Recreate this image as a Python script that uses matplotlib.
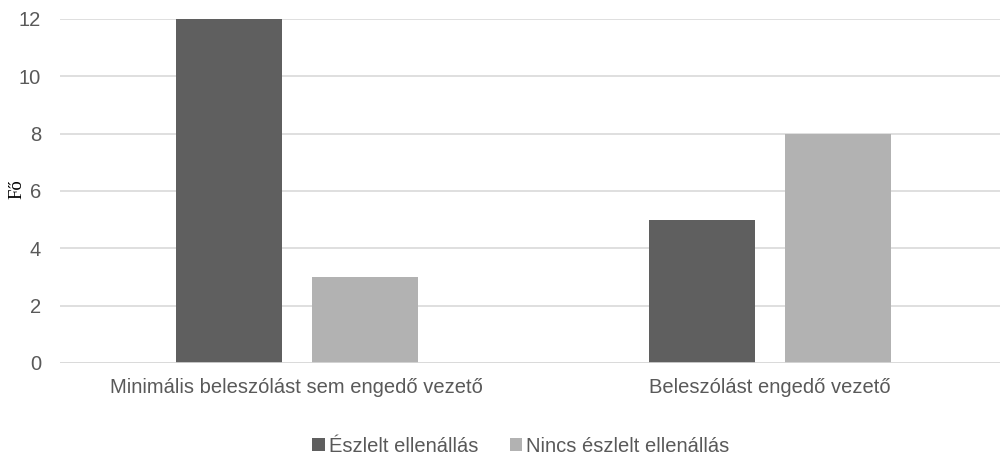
import matplotlib
matplotlib.use("Agg")
import matplotlib.pyplot as plt
import numpy as np
from matplotlib.patches import Patch

categories = ["Minimális beleszólást sem engedő vezető", "Beleszólást engedő vezető"]
series_names = ["Észlelt ellenállás", "Nincs észlelt ellenállás"]
eszlelt = [12, 5]
nincs = [3, 8]
yticks = [0, 2, 4, 6, 8, 10, 12]
ylabel = "Fő"

colors = ["#5f5f5f", "#b2b2b2"]
W, H = 1001, 454
FS = 14.5
fig = plt.figure(figsize=(W / 100, H / 100), dpi=100)
left, right = 60 / W, 1000 / W
bottom, top = 1 - 363 / H, 1 - 19 / H
ax = fig.add_axes([left, bottom, right - left, top - bottom])

x = np.arange(len(categories))
bw = 0.224
off = 0.1436
ax.bar(x - off, eszlelt, bw, color=colors[0], zorder=3)
ax.bar(x + off, nincs, bw, color=colors[1], zorder=3)

ax.set_xlim(-0.5, -0.5 + 940 / 473.5)
ax.set_ylim(0, 12)
ax.set_yticks(yticks)
ax.yaxis.grid(True, color="#d9d9d9", linewidth=1.2, zorder=0)
for s in ax.spines.values():
    s.set_visible(False)
ax.axhline(0, color="#d9d9d9", linewidth=1.2, zorder=4)
ax.tick_params(axis="both", length=0, labelsize=FS, labelcolor="#595959")
ax.tick_params(axis="x", pad=11)
ax.tick_params(axis="y", pad=13.5)
ax.set_xticks(x)
ax.set_xticklabels(categories)
for lbl in ax.get_xticklabels() + ax.get_yticklabels():
    lbl.set_fontfamily("Liberation Sans")

fig.text(17 / W, 1 - 189 / H, ylabel, rotation=90, ha="center", va="center",
         fontsize=13.5, family="Liberation Serif", color="black")

handles = [Patch(facecolor=c, edgecolor="none") for c in colors]
fig.legend(handles, series_names, loc="center", bbox_to_anchor=(521 / W, 1 - 446 / H),
           ncol=2, frameon=False, prop={"family": "Liberation Sans", "size": FS},
           labelcolor="#595959", handlelength=0.6, handleheight=0.6,
           handletextpad=0.2, columnspacing=1.6, borderpad=0, borderaxespad=0)

fig.savefig("out.png", dpi=100)
